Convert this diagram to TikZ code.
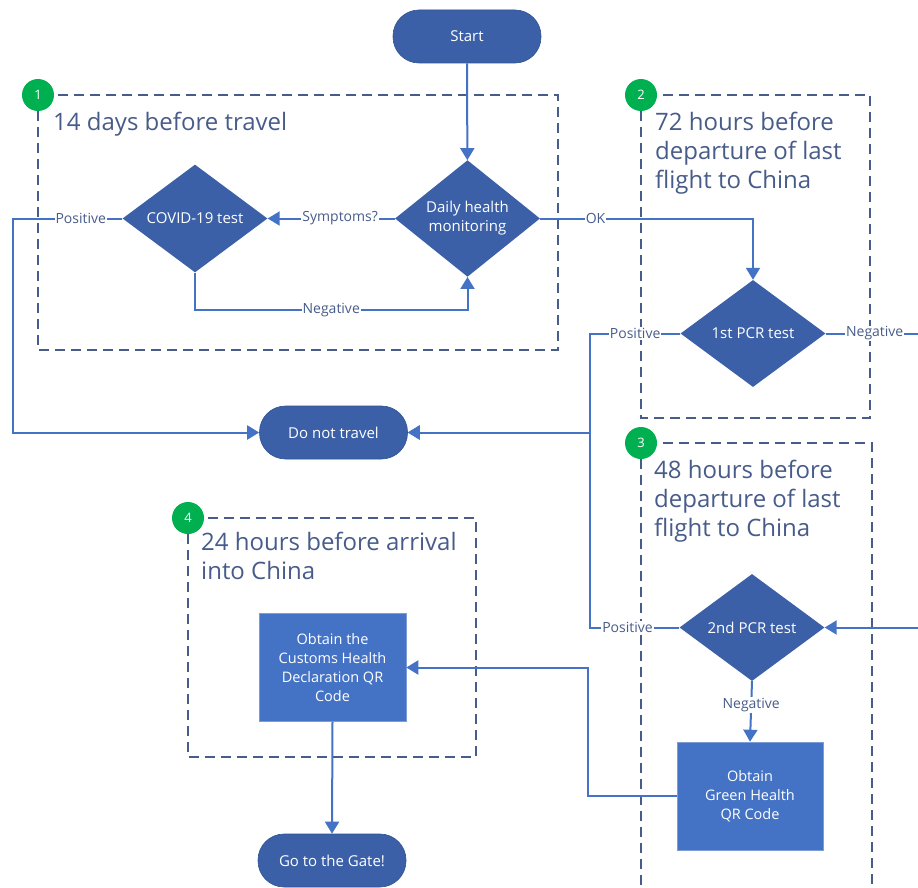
\documentclass[tikz,border=0pt]{standalone}
\usepackage{fontspec}
\setmainfont{Open Sans}
\usetikzlibrary{shapes.geometric}
\usetikzlibrary{arrows.meta}
\definecolor{flowblue}{HTML}{4472C4}
\definecolor{darkflow}{HTML}{3B60A8}
\definecolor{edgeflow}{HTML}{2F528F}
\definecolor{slate}{HTML}{485C8A}
\definecolor{stagegreen}{HTML}{00B050}
\tikzset{
  decision/.style={diamond, fill=darkflow, text=white, inner sep=0, align=center,
    minimum width=145, minimum height=107, font=\fontsize{15}{19}\selectfont},
  terminal/.style={rectangle, rounded corners=26, fill=darkflow, draw=edgeflow, line width=0.6,
    text=white, minimum width=148, minimum height=53, font=\fontsize{15}{19}\selectfont},
  process/.style={rectangle, fill=flowblue, draw=flowblue!70!white, line width=0.6, text=white,
    align=center, minimum width=147, minimum height=108, font=\fontsize{14.5}{19}\selectfont},
  flow/.style={draw=flowblue, line width=2, -{Triangle[width=14pt,length=12pt]}},
  lbl/.style={fill=white, text=slate, inner sep=1, font=\fontsize{14}{14}\selectfont},
  stage/.style={draw=slate, line width=1.8, dash pattern=on 10 off 6},
  stagetitle/.style={text=slate, anchor=north west, align=left, inner sep=0,
    font=\fontsize{24}{29}\selectfont},
  badge/.style={circle, fill=stagegreen, text=white, minimum size=32, inner sep=0,
    font=\fontsize{13}{13}\selectfont}
}
\begin{document}
\begin{tikzpicture}[x=1pt,y=-1pt]
\fill[white] (0,0) rectangle (918,888);
\clip (0,0) rectangle (918,888);
% stages
\draw[stage] (38,95) rectangle (558,350);
\draw[stage] (641,95) rectangle (870,418);
\draw[stage] (641,443) rectangle (872,900);
\draw[stage] (188,518) rectangle (476,757);
\node[stagetitle] (t1) at (53,111.5) {14 days before travel};
\node[stagetitle] (t2) at (655,111.5) {72 hours before\\departure of last\\flight to China};
\node[stagetitle] (t3) at (654,460) {48 hours before\\departure of last\\flight to China};
\node[stagetitle] (t4) at (201,532) {24 hours before arrival\\into China};
\foreach \n/\x/\y in {1/38/95, 2/641/95, 3/641/443, 4/188/518}
  \node[badge] (s\n) at (\x,\y) {\n};
% steps
\node[terminal] (start) at (467,36.5) {Start};
\node[decision] (daily) at (467.5,218.5) {Daily health\\monitoring};
\node[decision] (covid) at (195,218.5) {COVID-19 test};
\node[terminal] (stop) at (333.5,432.5) {Do not travel};
\node[decision] (pcr1) at (753,333.5) {1st PCR test};
\node[decision] (pcr2) at (752,627.5) {2nd PCR test};
\node[process, minimum width=146] (green) at (750,796) {Obtain\\Green Health\\QR Code};
\node[process] (customs) at (332.5,667.5) {Obtain the\\Customs Health\\Declaration QR\\Code};
\node[terminal] (gate) at (332,860.5) {Go to the Gate!};
% connectors
\draw[flow] (start) -- (daily);
\draw[flow] (daily.west) -- node[lbl, pos=0.43] {Symptoms?} (covid.east);
\draw[flow] (covid.south) -- (195,310) -- node[lbl] {Negative} (467.5,310) -- (daily.south);
\draw[flow] (covid.west) -- node[lbl, pos=0.38] {Positive} (13,218.5) -- (13,432.5) -- (stop.west);
\draw[flow] (daily.east) -- node[lbl, pos=0.26] {OK} (753,218.5) -- (pcr1.north);
\draw[flow] (pcr1.west) -- node[lbl, pos=0.5] {Positive} (590,333.5) -- (590,432.5) -- (stop.east);
\draw[flow] (pcr1.east) -- node[lbl, pos=0.47] {Negative} (930,333.5) -- (930,627.5) -- (pcr2.east);
\draw[flow] (pcr2.west) -- node[lbl, pos=0.58] {Positive} (590,627.5) -- (590,432.5) -- (stop.east);
\draw[flow] (pcr2.south) -- node[lbl, pos=0.39] {Negative} (green.north);
\draw[flow] (green.west) -- (588,796) -- (588,667.5) -- (customs.east);
\draw[flow] (customs.south) -- (gate.north);
\end{tikzpicture}
\end{document}
